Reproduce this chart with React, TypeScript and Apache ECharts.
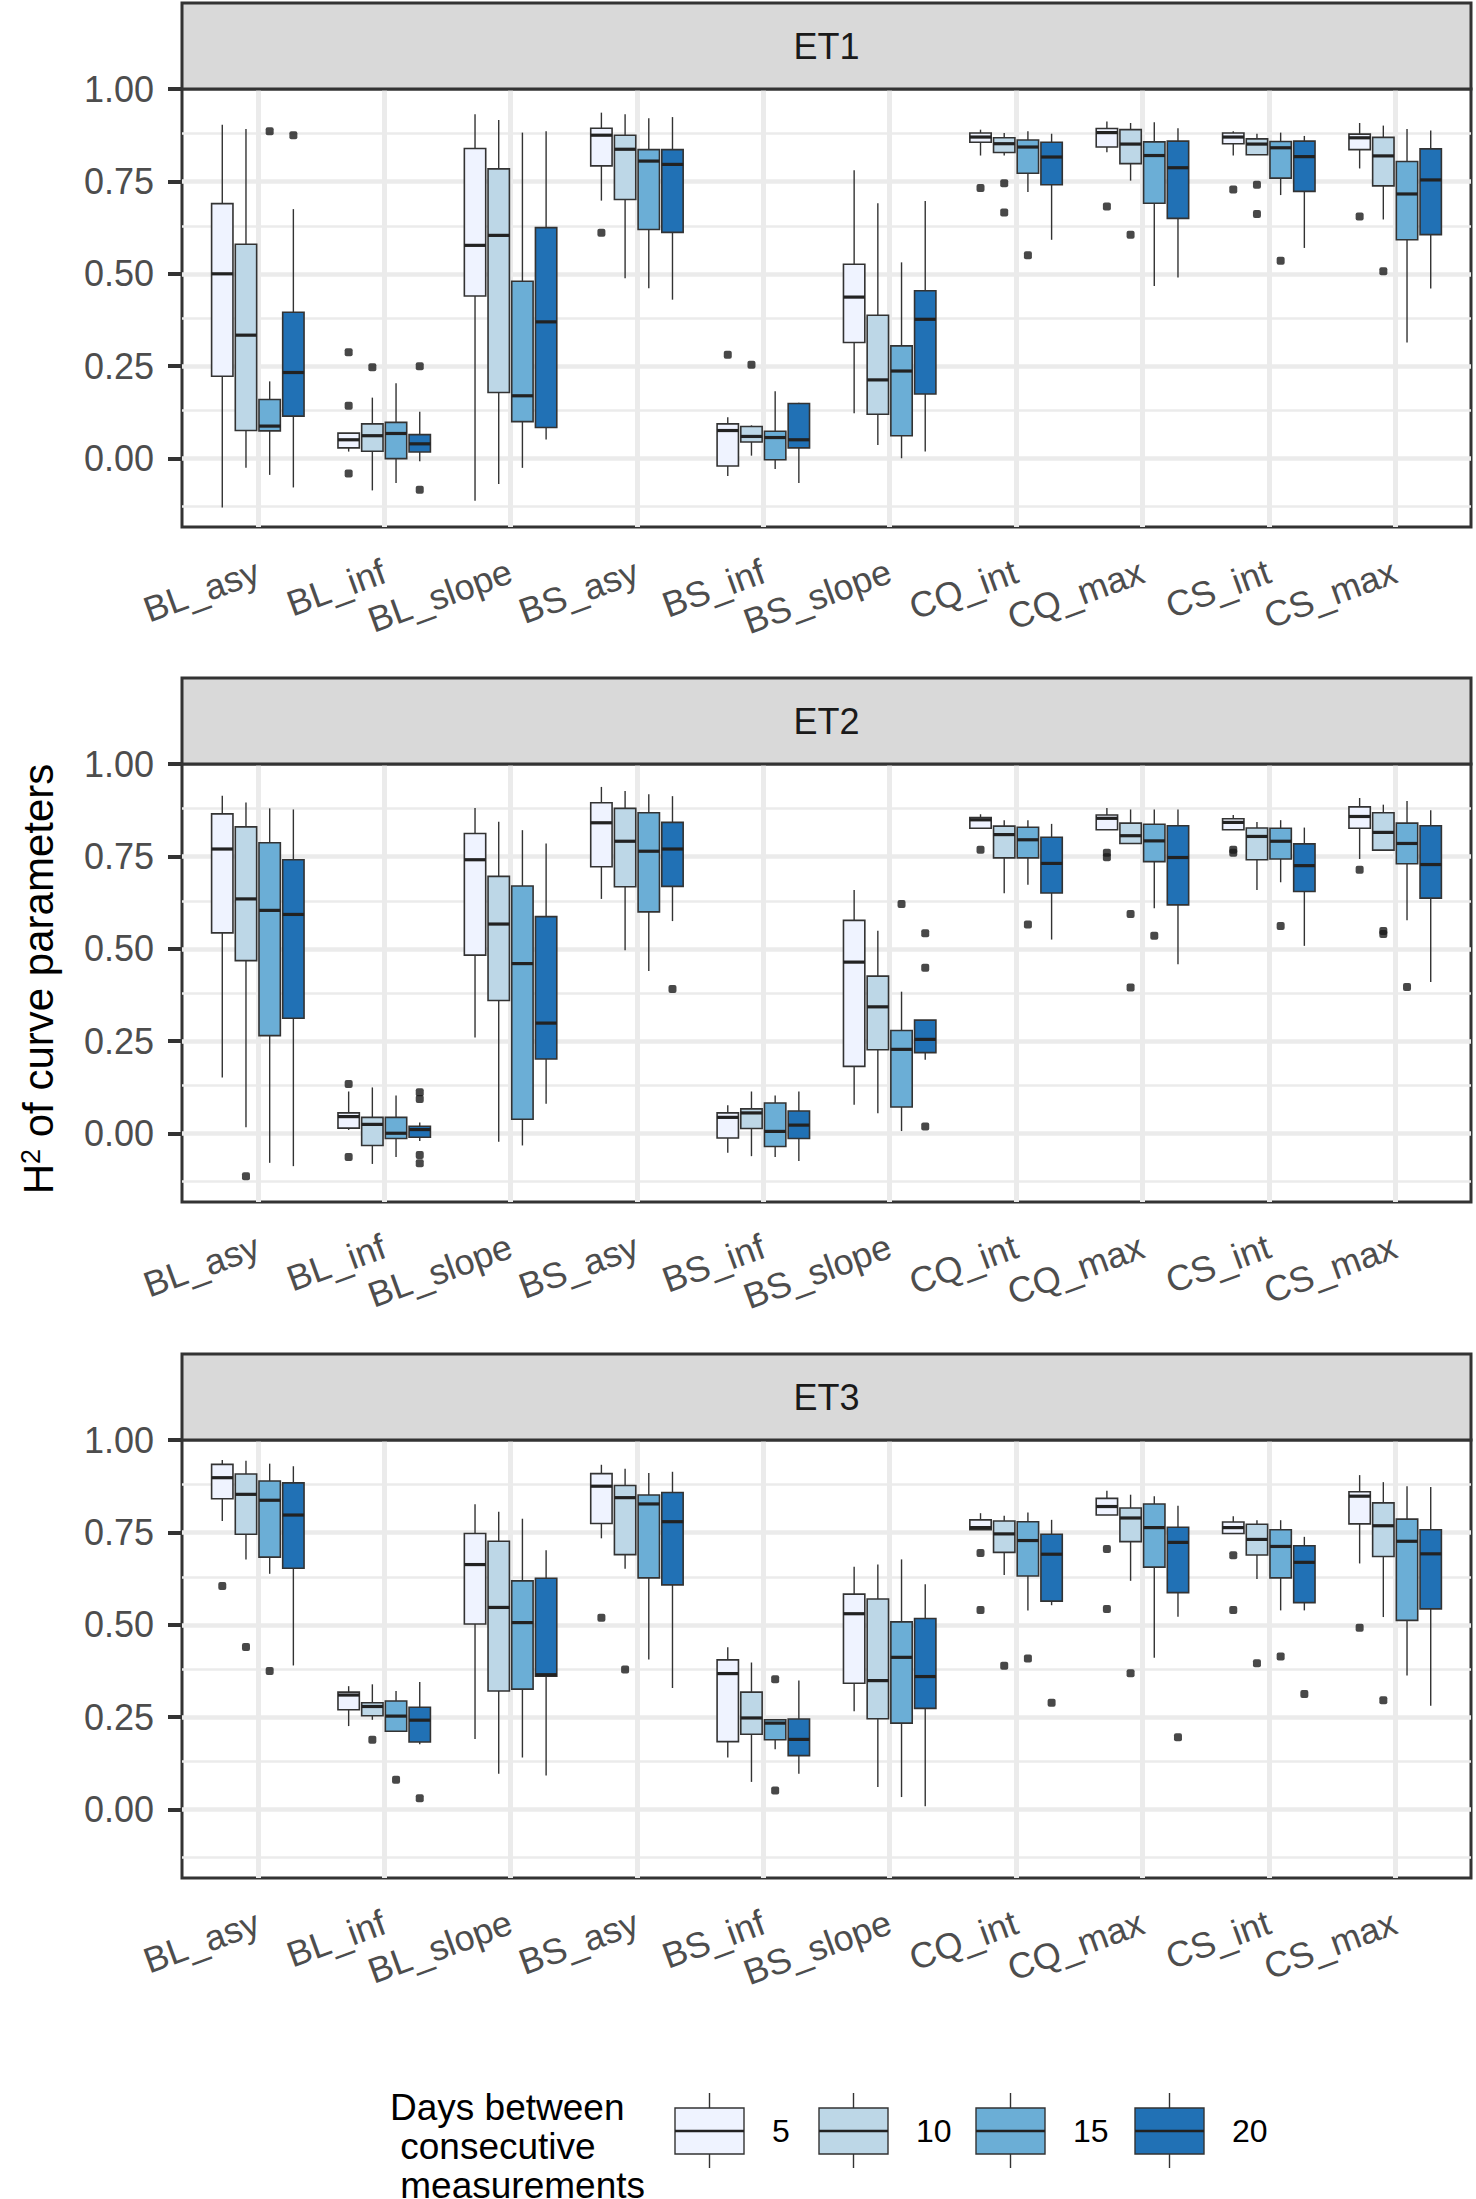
import React, { useEffect, useRef } from "react";
import * as echarts from "echarts";

const FONT = "'Liberation Sans', Arial, Helvetica, sans-serif";

const CATEGORIES = ["BL_asy", "BL_inf", "BL_slope", "BS_asy", "BS_inf", "BS_slope", "CQ_int", "CQ_max", "CS_int", "CS_max"];
const DAYS = ["5", "10", "15", "20"];
const PANELS = ["ET1", "ET2", "ET3"];
const Y_TICKS = [0, 0.25, 0.5, 0.75, 1];
const Y_MINOR = [-0.125, 0.125, 0.375, 0.625, 0.875];
const COLORS = ["#EFF3FF", "#BDD7E7", "#6BAED6", "#2171B5"];

// Box statistics per category: [lower whisker, Q1, median, Q3, upper whisker]
const ET1_D5 = [[-0.132, 0.223, 0.5, 0.69, 0.903], [0.019, 0.029, 0.051, 0.069, 0.069], [-0.114, 0.44, 0.577, 0.839, 0.932], [0.698, 0.792, 0.875, 0.894, 0.936], [-0.047, -0.02, 0.076, 0.094, 0.112], [0.123, 0.314, 0.437, 0.526, 0.78], [0.82, 0.856, 0.87, 0.881, 0.89], [0.829, 0.843, 0.882, 0.893, 0.912], [0.82, 0.852, 0.87, 0.881, 0.886], [0.785, 0.836, 0.868, 0.878, 0.908]];
const ET1_D10 = [[-0.025, 0.076, 0.334, 0.58, 0.892], [-0.086, 0.02, 0.062, 0.094, 0.165], [-0.069, 0.179, 0.604, 0.784, 0.916], [0.488, 0.701, 0.837, 0.875, 0.932], [0.008, 0.045, 0.06, 0.087, 0.09], [0.037, 0.12, 0.213, 0.388, 0.691], [0.82, 0.828, 0.852, 0.868, 0.881], [0.752, 0.798, 0.851, 0.89, 0.908], [0.822, 0.822, 0.851, 0.865, 0.879], [0.647, 0.738, 0.819, 0.869, 0.901]];
const ET1_D15 = [[-0.044, 0.075, 0.088, 0.16, 0.209], [-0.066, 0.0, 0.068, 0.098, 0.204], [-0.025, 0.1, 0.17, 0.48, 0.882], [0.461, 0.62, 0.805, 0.836, 0.921], [-0.028, -0.003, 0.057, 0.074, 0.182], [0.001, 0.062, 0.237, 0.305, 0.531], [0.721, 0.772, 0.843, 0.862, 0.886], [0.467, 0.691, 0.82, 0.857, 0.91], [0.713, 0.759, 0.841, 0.858, 0.882], [0.314, 0.592, 0.716, 0.804, 0.892]];
const ET1_D20 = [[-0.078, 0.115, 0.233, 0.396, 0.675], [-0.007, 0.018, 0.04, 0.065, 0.127], [0.052, 0.084, 0.37, 0.625, 0.886], [0.43, 0.612, 0.796, 0.836, 0.924], [-0.066, 0.029, 0.051, 0.149, 0.151], [0.019, 0.175, 0.377, 0.454, 0.697], [0.592, 0.741, 0.816, 0.856, 0.879], [0.49, 0.65, 0.787, 0.859, 0.894], [0.57, 0.723, 0.817, 0.859, 0.873], [0.46, 0.606, 0.754, 0.838, 0.888]];

const ET2_D5 = [[0.152, 0.543, 0.77, 0.865, 0.914], [0.01, 0.015, 0.046, 0.056, 0.114], [0.26, 0.483, 0.741, 0.812, 0.881], [0.635, 0.722, 0.841, 0.895, 0.938], [-0.052, -0.012, 0.044, 0.056, 0.077], [0.078, 0.182, 0.464, 0.577, 0.659], [0.826, 0.826, 0.849, 0.855, 0.864], [0.822, 0.822, 0.853, 0.862, 0.881], [0.822, 0.822, 0.842, 0.852, 0.862], [0.743, 0.826, 0.858, 0.884, 0.908]];
const ET2_D10 = [[0.017, 0.468, 0.635, 0.83, 0.896], [-0.082, -0.032, 0.025, 0.044, 0.125], [-0.022, 0.36, 0.567, 0.696, 0.844], [0.496, 0.668, 0.791, 0.88, 0.927], [-0.061, 0.014, 0.056, 0.067, 0.114], [0.055, 0.227, 0.343, 0.426, 0.549], [0.65, 0.746, 0.809, 0.832, 0.848], [0.785, 0.785, 0.806, 0.84, 0.877], [0.659, 0.741, 0.804, 0.827, 0.843], [0.767, 0.767, 0.815, 0.868, 0.89]];
const ET2_D15 = [[-0.079, 0.265, 0.604, 0.787, 0.88], [-0.063, -0.013, 0.001, 0.044, 0.103], [-0.032, 0.039, 0.46, 0.67, 0.821], [0.44, 0.6, 0.764, 0.868, 0.918], [-0.063, -0.035, 0.006, 0.083, 0.103], [0.007, 0.072, 0.228, 0.279, 0.384], [0.673, 0.746, 0.795, 0.829, 0.848], [0.61, 0.736, 0.792, 0.837, 0.877], [0.68, 0.743, 0.791, 0.826, 0.848], [0.577, 0.73, 0.785, 0.84, 0.9]];
const ET2_D20 = [[-0.088, 0.312, 0.593, 0.741, 0.877], [-0.02, -0.01, 0.011, 0.02, 0.03], [0.081, 0.202, 0.299, 0.587, 0.785], [0.575, 0.669, 0.77, 0.842, 0.913], [-0.074, -0.013, 0.023, 0.061, 0.114], [0.2, 0.219, 0.255, 0.307, 0.307], [0.525, 0.651, 0.731, 0.802, 0.838], [0.458, 0.619, 0.747, 0.833, 0.877], [0.508, 0.655, 0.725, 0.784, 0.828], [0.41, 0.637, 0.728, 0.833, 0.875]];

const ET3_D5 = [[0.781, 0.841, 0.898, 0.934, 0.946], [0.226, 0.27, 0.31, 0.318, 0.334], [0.191, 0.502, 0.663, 0.747, 0.826], [0.734, 0.774, 0.875, 0.909, 0.933], [0.141, 0.184, 0.368, 0.405, 0.439], [0.266, 0.342, 0.53, 0.583, 0.657], [0.757, 0.757, 0.763, 0.784, 0.802], [0.797, 0.797, 0.82, 0.842, 0.863], [0.747, 0.747, 0.763, 0.778, 0.794], [0.666, 0.773, 0.848, 0.86, 0.905]];
const ET3_D10 = [[0.677, 0.745, 0.853, 0.908, 0.944], [0.243, 0.254, 0.279, 0.289, 0.339], [0.097, 0.321, 0.547, 0.726, 0.806], [0.652, 0.69, 0.844, 0.877, 0.922], [0.075, 0.204, 0.248, 0.318, 0.398], [0.061, 0.246, 0.349, 0.57, 0.663], [0.635, 0.696, 0.746, 0.781, 0.795], [0.619, 0.725, 0.789, 0.816, 0.852], [0.624, 0.689, 0.731, 0.772, 0.783], [0.521, 0.685, 0.768, 0.83, 0.886]];
const ET3_D15 = [[0.638, 0.683, 0.837, 0.889, 0.936], [0.212, 0.212, 0.253, 0.294, 0.321], [0.141, 0.326, 0.506, 0.619, 0.787], [0.406, 0.627, 0.827, 0.851, 0.911], [0.163, 0.189, 0.234, 0.243, 0.245], [0.034, 0.234, 0.412, 0.508, 0.677], [0.539, 0.632, 0.728, 0.779, 0.804], [0.411, 0.656, 0.763, 0.827, 0.848], [0.539, 0.627, 0.712, 0.757, 0.783], [0.363, 0.512, 0.726, 0.786, 0.875]];
const ET3_D20 = [[0.39, 0.653, 0.797, 0.884, 0.929], [0.177, 0.183, 0.242, 0.277, 0.345], [0.092, 0.361, 0.365, 0.626, 0.702], [0.329, 0.608, 0.779, 0.858, 0.914], [0.097, 0.146, 0.19, 0.245, 0.349], [0.009, 0.274, 0.36, 0.517, 0.61], [0.553, 0.564, 0.691, 0.745, 0.784], [0.522, 0.587, 0.723, 0.764, 0.822], [0.539, 0.56, 0.669, 0.714, 0.738], [0.281, 0.543, 0.692, 0.757, 0.873]];

// Outliers: [category, days, value]
const ET1_OUTLIERS: [string, string, number][] = [
  ["BL_asy", "15", 0.886], ["BL_asy", "20", 0.875],
  ["BL_inf", "5", 0.288], ["BL_inf", "5", 0.143], ["BL_inf", "5", -0.04], ["BL_inf", "10", 0.247], ["BL_inf", "20", 0.25], ["BL_inf", "20", -0.084],
  ["BS_asy", "5", 0.611],
  ["BS_inf", "5", 0.281], ["BS_inf", "10", 0.254],
  ["CQ_int", "5", 0.732], ["CQ_int", "10", 0.745], ["CQ_int", "10", 0.666], ["CQ_int", "15", 0.55],
  ["CQ_max", "5", 0.682], ["CQ_max", "10", 0.606],
  ["CS_int", "5", 0.728], ["CS_int", "10", 0.741], ["CS_int", "10", 0.662], ["CS_int", "15", 0.535],
  ["CS_max", "5", 0.655], ["CS_max", "10", 0.507],
];
const ET2_OUTLIERS: [string, string, number][] = [
  ["BL_asy", "10", -0.115],
  ["BL_inf", "5", 0.134], ["BL_inf", "5", -0.063], ["BL_inf", "20", 0.112], ["BL_inf", "20", 0.094], ["BL_inf", "20", -0.058], ["BL_inf", "20", -0.08],
  ["BS_asy", "20", 0.391],
  ["BS_slope", "15", 0.621], ["BS_slope", "20", 0.542], ["BS_slope", "20", 0.449], ["BS_slope", "20", 0.019],
  ["CQ_int", "5", 0.768], ["CQ_int", "15", 0.566],
  ["CQ_max", "5", 0.76], ["CQ_max", "5", 0.748], ["CQ_max", "10", 0.594], ["CQ_max", "10", 0.395], ["CQ_max", "15", 0.535],
  ["CS_int", "5", 0.768], ["CS_int", "5", 0.76], ["CS_int", "15", 0.562],
  ["CS_max", "5", 0.714], ["CS_max", "10", 0.548], ["CS_max", "10", 0.54], ["CS_max", "15", 0.397],
];
const ET3_OUTLIERS: [string, string, number][] = [
  ["BL_asy", "5", 0.605], ["BL_asy", "10", 0.44], ["BL_asy", "15", 0.375],
  ["BL_inf", "10", 0.189], ["BL_inf", "15", 0.081], ["BL_inf", "20", 0.031],
  ["BS_asy", "5", 0.519], ["BS_asy", "10", 0.379],
  ["BS_inf", "15", 0.353], ["BS_inf", "15", 0.052],
  ["CQ_int", "5", 0.694], ["CQ_int", "5", 0.54], ["CQ_int", "10", 0.389], ["CQ_int", "15", 0.409], ["CQ_int", "20", 0.289],
  ["CQ_max", "5", 0.705], ["CQ_max", "5", 0.543], ["CQ_max", "10", 0.369], ["CQ_max", "20", 0.196],
  ["CS_int", "5", 0.688], ["CS_int", "5", 0.54], ["CS_int", "10", 0.396], ["CS_int", "15", 0.414], ["CS_int", "20", 0.313],
  ["CS_max", "5", 0.492], ["CS_max", "10", 0.296],
];

const PANEL_STATS = [
  [ET1_D5, ET1_D10, ET1_D15, ET1_D20],
  [ET2_D5, ET2_D10, ET2_D15, ET2_D20],
  [ET3_D5, ET3_D10, ET3_D15, ET3_D20],
];
const PANEL_OUTLIERS = [ET1_OUTLIERS, ET2_OUTLIERS, ET3_OUTLIERS];

// layout
const GRID_LEFT = 182;
const GRID_WIDTH = 1289;
const GRID_HEIGHT = 438;
const GRID_TOPS = [89, 764, 1440];
const STRIP_H = 86;
const DODGE = 0.1875;
const BOX_W = 0.169;
const groupOffset = (g: number) => (g - 1.5) * DODGE;

function buildOption() {
  const grid: any[] = [];
  const xAxis: any[] = [];
  const yAxis: any[] = [];
  const series: any[] = [];
  const graphic: any[] = [];
  const catValues = CATEGORIES.map((_, i) => i + 1);

  PANELS.forEach((name, p) => {
    grid.push({
      left: GRID_LEFT, top: GRID_TOPS[p], width: GRID_WIDTH, height: GRID_HEIGHT,
      show: true, borderColor: "#333333", borderWidth: 3, backgroundColor: "#FFFFFF",
      containLabel: false,
    });
    xAxis.push({
      type: "value", gridIndex: p, min: 0.4, max: 10.6,
      axisLine: { show: false }, splitLine: { show: false },
      axisTick: { show: true, customValues: catValues, length: 14, lineStyle: { color: "#333333", width: 4 } },
      axisLabel: {
        show: true, customValues: catValues, rotate: 20, margin: 43,
        formatter: (v: number) => CATEGORIES[Math.round(v) - 1] ?? "",
        fontSize: 36, color: "#4D4D4D", fontFamily: FONT,
      },
    });
    yAxis.push({
      type: "value", gridIndex: p, min: -0.185, max: 1.0,
      axisLine: { show: false }, splitLine: { show: false },
      axisTick: { show: true, customValues: Y_TICKS, length: 14, lineStyle: { color: "#333333", width: 4 } },
      axisLabel: {
        show: true, customValues: Y_TICKS, margin: 28,
        formatter: (v: number) => v.toFixed(2),
        fontSize: 36, color: "#4D4D4D", fontFamily: FONT,
      },
    });

    // grid lines (drawn beneath the boxes)
    const ml: any[] = [];
    Y_MINOR.forEach((v) => ml.push({ yAxis: v, lineStyle: { color: "#EBEBEB", width: 2.5, type: "solid" } }));
    Y_TICKS.filter((v) => v < 1).forEach((v) => ml.push({ yAxis: v, lineStyle: { color: "#EBEBEB", width: 4.5, type: "solid" } }));
    catValues.forEach((v) => ml.push({ xAxis: v, lineStyle: { color: "#EBEBEB", width: 5, type: "solid" } }));
    series.push({
      type: "line", xAxisIndex: p, yAxisIndex: p, data: [], z: 1, silent: true,
      markLine: { z: 1, silent: true, symbol: ["none", "none"], label: { show: false }, emphasis: { disabled: true }, data: ml, animation: false },
    });

    PANEL_STATS[p].forEach((stats, g) => {
      series.push({
        type: "custom", name: DAYS[g], xAxisIndex: p, yAxisIndex: p, z: 6,
        data: stats.map((s, c) => [c + 1, ...s]),
        encode: { x: 0, y: [1, 2, 3, 4, 5] },
        renderItem: (params: any, api: any) => {
          const cx = api.value(0) + groupOffset(g);
          const pLo = api.coord([cx, api.value(1)]);
          const pQ1 = api.coord([cx, api.value(2)]);
          const pMed = api.coord([cx, api.value(3)]);
          const pQ3 = api.coord([cx, api.value(4)]);
          const pHi = api.coord([cx, api.value(5)]);
          const half = api.size([BOX_W, 0])[0] / 2;
          const x = pMed[0];
          const stroke = "#333333";
          return {
            type: "group",
            children: [
              { type: "line", shape: { x1: x, y1: pHi[1], x2: x, y2: pQ3[1] }, style: { stroke, lineWidth: 1.4 } },
              { type: "line", shape: { x1: x, y1: pQ1[1], x2: x, y2: pLo[1] }, style: { stroke, lineWidth: 1.4 } },
              { type: "rect", shape: { x: x - half, y: pQ3[1], width: half * 2, height: pQ1[1] - pQ3[1] }, style: { fill: COLORS[g], stroke, lineWidth: 1.6 } },
              { type: "line", shape: { x1: x - half, y1: pMed[1], x2: x + half, y2: pMed[1] }, style: { stroke: "#222222", lineWidth: 3.2 } },
            ],
          };
        },
      });
    });

    series.push({
      type: "scatter", xAxisIndex: p, yAxisIndex: p, z: 7, silent: true,
      symbol: "roundRect", symbolSize: 8,
      itemStyle: { color: "#1A1A1A" },
      data: PANEL_OUTLIERS[p].map(([cat, day, v]) => [CATEGORIES.indexOf(cat) + 1 + groupOffset(DAYS.indexOf(day)), v]),
    });

    // strip
    const top = GRID_TOPS[p] - STRIP_H;
    graphic.push({
      type: "rect", z: 10, shape: { x: GRID_LEFT, y: top, width: GRID_WIDTH, height: STRIP_H },
      style: { fill: "#D9D9D9", stroke: "#333333", lineWidth: 3 },
    });
    graphic.push({
      type: "text", z: 11, x: GRID_LEFT + GRID_WIDTH / 2, y: top + STRIP_H / 2,
      style: { text: name, fontSize: 36, fontFamily: FONT, fill: "#1A1A1A", textAlign: "center", textVerticalAlign: "middle" },
    });
  });

  // y axis title
  graphic.push({
    type: "text", z: 11, x: 38, y: 979, rotation: Math.PI / 2,
    style: {
      text: "{h|H}{s|2}{h| of curve parameters}",
      textAlign: "center", textVerticalAlign: "middle", fill: "#000000",
      rich: {
        h: { fontSize: 42, fontFamily: FONT, fill: "#000000", verticalAlign: "bottom" },
        s: { fontSize: 27, fontFamily: FONT, fill: "#000000", verticalAlign: "top" },
      },
    },
  });

  // legend
  const LEG_TITLE_X = 390;
  ["Days between", " consecutive", " measurements"].forEach((t, i) => {
    graphic.push({
      type: "text", z: 11, x: LEG_TITLE_X, y: 2107 + i * 39,
      style: { text: t, fontSize: 37, fontFamily: FONT, fill: "#000000", textAlign: "left", textVerticalAlign: "middle" },
    });
  });
  const KEY_X = [675, 819, 976, 1135];
  const KEY_W = 69;
  const KEY_TOP = 2108;
  const KEY_BOTTOM = 2154;
  DAYS.forEach((d, g) => {
    const x = KEY_X[g];
    const cx = x + KEY_W / 2;
    const mid = (KEY_TOP + KEY_BOTTOM) / 2;
    graphic.push({ type: "line", z: 11, shape: { x1: cx, y1: 2093, x2: cx, y2: KEY_TOP }, style: { stroke: "#333333", lineWidth: 1.4 } });
    graphic.push({ type: "line", z: 11, shape: { x1: cx, y1: KEY_BOTTOM, x2: cx, y2: 2168 }, style: { stroke: "#333333", lineWidth: 1.4 } });
    graphic.push({ type: "rect", z: 11, shape: { x, y: KEY_TOP, width: KEY_W, height: KEY_BOTTOM - KEY_TOP }, style: { fill: COLORS[g], stroke: "#333333", lineWidth: 1.4 } });
    graphic.push({ type: "line", z: 12, shape: { x1: x, y1: mid, x2: x + KEY_W, y2: mid }, style: { stroke: "#222222", lineWidth: 2.5 } });
    graphic.push({
      type: "text", z: 11, x: x + KEY_W + 28, y: mid,
      style: { text: d, fontSize: 32, fontFamily: FONT, fill: "#000000", textAlign: "left", textVerticalAlign: "middle" },
    });
  });

  return {
    animation: false,
    backgroundColor: "#FFFFFF",
    textStyle: { fontFamily: FONT },
    grid, xAxis, yAxis, series, graphic,
  };
}

export default function App() {
  const ref = useRef<HTMLDivElement>(null);
  useEffect(() => {
    if (!ref.current) return;
    const chart = echarts.init(ref.current, undefined, { renderer: "svg" });
    chart.setOption(buildOption() as any);
    return () => chart.dispose();
  }, []);
  return <div ref={ref} style={{ position: "absolute", left: 0, top: 0, width: 1476, height: 2199, background: "#fff" }} />;
}
